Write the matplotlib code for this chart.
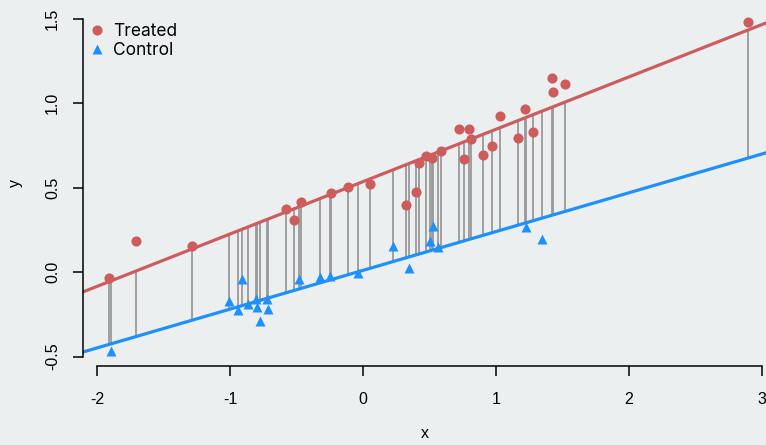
import numpy as np
import matplotlib.pyplot as plt

plt.rcParams['axes.unicode_minus'] = False

# values
x_treated = [-1.91, -1.709, -1.288, -0.577, -0.521, -0.466, -0.241, -0.11, 0.055,
             0.326, 0.396, 0.421, 0.471, 0.519, 0.584, 0.725, 0.762, 0.795, 0.81,
             0.905, 0.97, 1.028, 1.168, 1.216, 1.278, 1.424, 1.426, 1.517, 2.895]
y_treated = [-0.034, 0.183, 0.156, 0.371, 0.31, 0.416, 0.467, 0.501, 0.521,
             0.396, 0.475, 0.647, 0.688, 0.676, 0.718, 0.844, 0.671, 0.848, 0.787,
             0.692, 0.744, 0.923, 0.793, 0.964, 0.826, 1.15, 1.065, 1.11, 1.481]
x_control = [-1.895, -1.005, -0.94, -0.912, -0.862, -0.807, -0.795, -0.774, -0.722,
             -0.717, -0.481, -0.326, -0.248, -0.04, 0.223, 0.346, 0.502, 0.524,
             0.564, 1.226, 1.344]
y_control = [-0.466, -0.173, -0.223, -0.04, -0.189, -0.162, -0.207, -0.292, -0.162,
             -0.219, -0.043, -0.028, -0.024, -0.004, 0.156, 0.022, 0.182, 0.274,
             0.146, 0.264, 0.197]

# fitted lines (intercept, slope)
fit_treated = (0.535, 0.31)
fit_control = (0.01, 0.2296)

red = '#CD5C5C'
blue = '#1E90FF'
bg = '#ECEFF0'

fig = plt.figure(figsize=(7.66, 4.45), dpi=100, facecolor=bg)
ax = fig.add_axes([83/766, (445-366)/445, 1-83/766, 366/445])
ax.set_facecolor(bg)

xlim = (-2.105, 3.03)
ax.set_xlim(xlim)
ax.set_ylim(-0.556, 1.61)

xx = np.array(xlim)
x_all = np.array(x_treated + x_control)
ax.vlines(x_all, fit_control[0] + fit_control[1]*x_all,
          fit_treated[0] + fit_treated[1]*x_all, color='#999999', lw=1.3, zorder=1)
ax.plot(xx, fit_treated[0] + fit_treated[1]*xx, color=red, lw=2.3, zorder=2)
ax.plot(xx, fit_control[0] + fit_control[1]*xx, color=blue, lw=2.3, zorder=2)

ax.plot(x_treated, y_treated, 'o', color=red, ms=7.3, mec='none', zorder=3, label='Treated')
ax.plot(x_control, y_control, '^', color=blue, ms=7.8, mec='none', zorder=3, label='Control')

for s in ['top', 'right']:
    ax.spines[s].set_visible(False)
ax.spines['left'].set_bounds(-0.5, 1.5)
ax.spines['bottom'].set_bounds(-2, 3)
for s in ['left', 'bottom']:
    ax.spines[s].set_linewidth(1.1)

ax.set_xticks([-2, -1, 0, 1, 2, 3])
ax.set_yticks([-0.5, 0.0, 0.5, 1.0, 1.5])
ax.set_yticklabels(['-0.5', '0.0', '0.5', '1.0', '1.5'], rotation=90, va='center')
ax.tick_params(length=7.5, width=1.1, labelsize=11.5)
ax.tick_params(axis='x', pad=11)
ax.tick_params(axis='y', pad=9)
for lab in ax.get_xticklabels() + ax.get_yticklabels():
    lab.set_family('Liberation Sans')

ax.set_xlabel('x', family='Liberation Sans', fontsize=11.5, labelpad=14)
ax.set_ylabel('y', family='Liberation Sans', fontsize=11.5, labelpad=16)

ax.legend(loc='upper left', bbox_to_anchor=(90/766, 1 - 23/445),
          bbox_transform=fig.transFigure, frameon=False,
          prop={'family': 'Inter', 'size': 12.5}, handletextpad=0.55,
          labelspacing=0.1, borderaxespad=0, borderpad=0, handlelength=0.8)

fig.savefig('out.png', dpi=100, facecolor=bg)
